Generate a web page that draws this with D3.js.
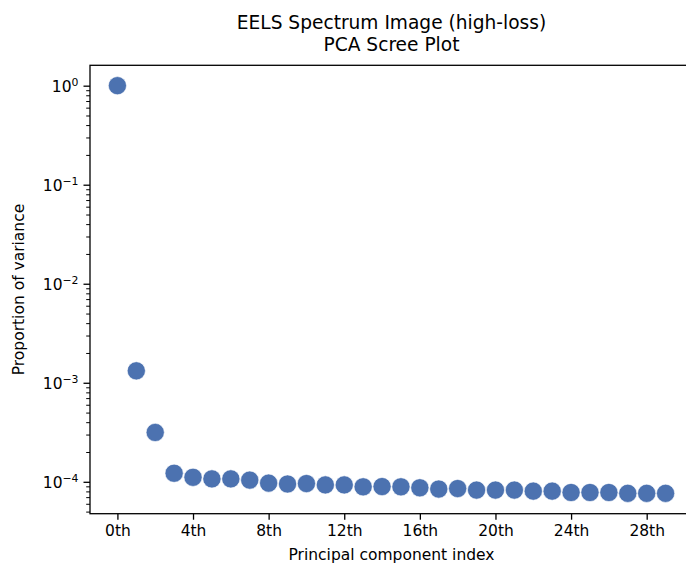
<!DOCTYPE html>
<html>
<head>
<meta charset="utf-8">
<script src="https://cdn.jsdelivr.net/npm/d3@7"></script>
<style>
  html, body { margin: 0; padding: 0; background: #fff; }
  svg { display: block; font-family: "DejaVu Sans", sans-serif; }
</style>
</head>
<body>
<svg id="chart" width="686" height="569"></svg>
<script>
// Proportion of variance explained by each principal component
const componentIndex = d3.range(30);
const proportion = [
  1.0, 1.32e-3, 3.15e-4, 1.22e-4, 1.11e-4, 1.07e-4, 1.07e-4, 1.04e-4,
  9.7e-5, 9.5e-5, 9.6e-5, 9.3e-5, 9.3e-5, 8.9e-5, 8.95e-5, 8.9e-5,
  8.7e-5, 8.45e-5, 8.55e-5, 8.25e-5, 8.25e-5, 8.25e-5, 8.05e-5, 8.05e-5,
  7.8e-5, 7.8e-5, 7.8e-5, 7.65e-5, 7.65e-5, 7.65e-5
];
const xTickValues = [0, 4, 8, 12, 16, 20, 24, 28];
const xTickLabels = ["0th", "4th", "8th", "12th", "16th", "20th", "24th", "28th"];
const yTickExponents = [0, -1, -2, -3, -4];
const titleLines = ["EELS Spectrum Image (high-loss)", "PCA Scree Plot"];
const xLabel = "Principal component index";
const yLabel = "Proportion of variance";

const svg = d3.select("#chart");
const plot = { left: 90, right: 693, top: 65.3, bottom: 513.7 };
const tickFont = 15.5, labelFont = 15.5, titleFont = 18.6;
const markColor = "#4c72b0";

// 5% padding around the data, linear in x and logarithmic in y
const xPad = 0.05 * (d3.max(componentIndex) - d3.min(componentIndex));
const x = d3.scaleLinear()
  .domain([d3.min(componentIndex) - xPad, d3.max(componentIndex) + xPad])
  .range([plot.left, plot.right]);

const lMax = Math.log10(d3.max(proportion)), lMin = Math.log10(d3.min(proportion));
const lPad = 0.05 * (lMax - lMin);
const y = d3.scaleLog()
  .domain([Math.pow(10, lMin - lPad), Math.pow(10, lMax + lPad)])
  .range([plot.bottom, plot.top]);

// Markers
svg.append("g")
  .selectAll("circle")
  .data(componentIndex)
  .join("circle")
  .attr("cx", i => x(i))
  .attr("cy", i => y(proportion[i]))
  .attr("r", 9.1)
  .attr("fill", markColor)
  .attr("stroke", "#fff")
  .attr("stroke-width", 0.6);

// X axis
const xAxis = d3.axisBottom(x)
  .tickValues(xTickValues)
  .tickFormat((d, i) => xTickLabels[i])
  .tickSize(6)
  .tickPadding(5);
const gx = svg.append("g")
  .attr("transform", `translate(0,${plot.bottom})`)
  .call(xAxis);
gx.select(".domain").remove();
gx.selectAll(".tick line").attr("stroke", "#000").attr("stroke-width", 1.3);
gx.selectAll(".tick text")
  .attr("fill", "#000")
  .attr("font-size", tickFont)
  .attr("font-family", "DejaVu Sans, sans-serif");

// Y axis: minor ticks at 2..9 within each decade
const [dLo, dHi] = y.domain();
const minorTicks = [];
for (let e = Math.floor(Math.log10(dLo)); e <= Math.ceil(Math.log10(dHi)); e++) {
  for (let m = 2; m <= 9; m++) {
    const v = m * Math.pow(10, e);
    if (v >= dLo && v <= dHi) minorTicks.push(v);
  }
}
const gyMinor = svg.append("g")
  .attr("transform", `translate(${plot.left},0)`)
  .call(d3.axisLeft(y).tickValues(minorTicks).tickSize(3.8).tickFormat(""));
gyMinor.select(".domain").remove();
gyMinor.selectAll(".tick line").attr("stroke", "#000").attr("stroke-width", 1.0);

const yMajor = yTickExponents.map(e => Math.pow(10, e));
const gy = svg.append("g")
  .attr("transform", `translate(${plot.left},0)`)
  .call(d3.axisLeft(y).tickValues(yMajor).tickSize(6.5).tickPadding(5).tickFormat(""));
gy.select(".domain").remove();
gy.selectAll(".tick line").attr("stroke", "#000").attr("stroke-width", 1.3);

// Power-of-ten labels with superscript exponents
gy.selectAll(".tick").each(function (d, i) {
  const exp = yTickExponents[i];
  const t = d3.select(this).append("text")
    .attr("x", -11.5)
    .attr("dy", "0.36em")
    .attr("text-anchor", "end")
    .attr("fill", "#000")
    .attr("font-size", tickFont)
    .attr("font-family", "DejaVu Sans, sans-serif");
  t.append("tspan").text("10");
  t.append("tspan")
    .attr("font-size", tickFont * 0.7)
    .attr("dy", "-0.55em")
    .text(exp < 0 ? "\u2212" + Math.abs(exp) : String(exp));
});

// Frame
svg.append("rect")
  .attr("x", plot.left)
  .attr("y", plot.top)
  .attr("width", plot.right - plot.left)
  .attr("height", plot.bottom - plot.top)
  .attr("fill", "none")
  .attr("stroke", "#000")
  .attr("stroke-width", 1.3);

// Axis labels
const cx = (plot.left + plot.right) / 2;
svg.append("text")
  .attr("x", cx)
  .attr("y", 560)
  .attr("text-anchor", "middle")
  .attr("font-size", labelFont)
  .attr("fill", "#000")
  .text(xLabel);

svg.append("text")
  .attr("transform", `translate(24,${(plot.top + plot.bottom) / 2}) rotate(-90)`)
  .attr("text-anchor", "middle")
  .attr("font-size", labelFont)
  .attr("fill", "#000")
  .text(yLabel);

// Title
svg.append("g")
  .selectAll("text")
  .data(titleLines)
  .join("text")
  .attr("x", cx)
  .attr("y", (d, i) => 28.5 + i * 22.5)
  .attr("text-anchor", "middle")
  .attr("font-size", titleFont)
  .attr("fill", "#000")
  .text(d => d);
</script>
</body>
</html>
